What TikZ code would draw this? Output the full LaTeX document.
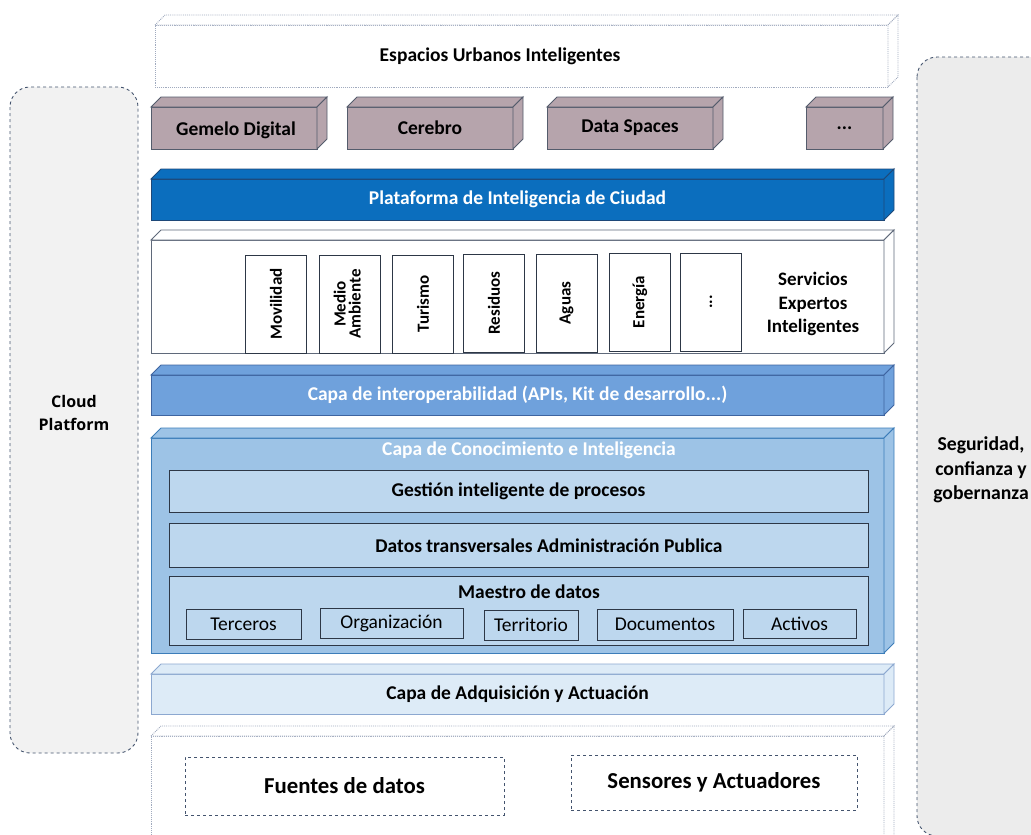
\documentclass[tikz,border=0pt]{standalone}
\usepackage{fontspec}
\setmainfont{Carlito}
\newfontfamily\cloudfont{Open Sans}

\definecolor{mauve}{RGB}{182,164,172}
\definecolor{mauveline}{RGB}{84,92,108}
\definecolor{cityblue}{RGB}{11,110,190}
\definecolor{citybluel}{RGB}{30,72,120}
\definecolor{interop}{RGB}{111,161,220}
\definecolor{interopl}{RGB}{62,100,160}
\definecolor{knowl}{RGB}{157,195,230}
\definecolor{knowll}{RGB}{60,125,185}
\definecolor{innerfill}{RGB}{189,215,238}
\definecolor{innerline}{RGB}{45,55,70}
\definecolor{acq}{RGB}{221,235,247}
\definecolor{acql}{RGB}{140,168,208}
\definecolor{dotline}{RGB}{160,170,190}
\definecolor{panelline}{RGB}{68,84,110}
\definecolor{servline}{RGB}{95,105,122}

\tikzset{
  x=1pt, y=-1pt,
  bigfont/.style={font=\bfseries\fontsize{19.5}{23}\selectfont},
  txt/.style={bigfont, align=center, inner sep=0, outer sep=0},
  slab/.style={draw, line width=0.9pt, inner sep=0, outer sep=0, bigfont, align=center},
  purplebox/.style={slab, fill=mauve, draw=mauveline},
  platbox/.style={slab, fill=cityblue, draw=citybluel, text=white},
  interbox/.style={slab, fill=interop, draw=interopl, text=white},
  knowbox/.style={slab, fill=knowl, draw=knowll},
  acqbox/.style={slab, fill=acq, draw=acql},
  servbox/.style={slab, fill=white, draw=servline},
  dotbox/.style={draw=dotline, densely dotted, line width=0.9pt, fill=white, inner sep=0, outer sep=0},
  innerbox/.style={draw=innerline, fill=innerfill, line width=0.8pt, inner sep=0, outer sep=0, bigfont},
  itembox/.style={draw=innerline, fill=innerfill, line width=0.8pt, inner sep=0, outer sep=0,
    font=\fontsize{19.5}{23}\selectfont},
  colbox/.style={draw=innerline, fill=white, line width=0.8pt, inner sep=0, outer sep=0,
    minimum width=61pt, minimum height=98pt, font=\bfseries\fontsize{17}{18}\selectfont, align=center},
  srcbox/.style={draw=panelline, dashed, line width=0.9pt, inner sep=0, outer sep=0,
    font=\bfseries\fontsize{22.8}{26}\selectfont},
  sidepanel/.style={draw=panelline, dashed, line width=0.9pt, rounded corners=20pt},
  cloudtxt/.style={font=\cloudfont\bfseries\fontsize{16}{23}\selectfont, align=center, inner sep=0, outer sep=0},
}

% top and right faces of a block drawn behind its front face
\newcommand\blockdepth[3][10]{%
  \filldraw[#3] (#2.north west) -- ++(#1,-#1) -- ([shift={(#1,-#1)}]#2.north east)
    -- (#2.north east) -- cycle;
  \filldraw[#3] (#2.north east) -- ([shift={(#1,-#1)}]#2.north east)
    -- ([shift={(#1,-#1)}]#2.south east) -- (#2.south east) -- cycle;}

\begin{document}
\begin{tikzpicture}
\useasboundingbox (0,0) rectangle (1031,835);
\begin{scope}
\clip (0,0) rectangle (1031,835);

% side panels
\filldraw[sidepanel, fill={rgb,255:red,242;green,242;blue,242}] (10,87) rectangle (138,753);
\node[cloudtxt] (cloud) at (74,413) {Cloud\\Platform};
\filldraw[sidepanel, fill={rgb,255:red,236;green,236;blue,236}] (917,57) rectangle (1060,836);
\node[txt, font=\bfseries\fontsize{19.7}{24.5}\selectfont] (segur) at (981,470) {Seguridad,\\confianza y\\gobernanza};

% smart urban spaces
\node[dotbox, minimum width=733pt, minimum height=62pt] (esp) at (521.5,56) {};
\blockdepth{esp}{dotbox}
\node[txt] (esptxt) at (500,56) {Espacios Urbanos Inteligentes};

% applications
\node[purplebox, minimum width=166pt, minimum height=42pt] (gemelo) at (234,128) {};
\blockdepth{gemelo}{purplebox}
\node[txt] (gemelotxt) at (236,130) {Gemelo Digital};
\node[purplebox, minimum width=166pt, minimum height=42pt] (cerebro) at (430,128) {Cerebro};
\blockdepth{cerebro}{purplebox}
\node[purplebox, minimum width=166pt, minimum height=42pt] (dspaces) at (630,128) {Data Spaces};
\blockdepth{dspaces}{purplebox}
\node[purplebox, minimum width=77pt, minimum height=42pt] (appmore) at (844.5,128) {...};
\blockdepth{appmore}{purplebox}

% city intelligence platform
\node[platbox, minimum width=733pt, minimum height=41pt] (plat) at (517.5,199.5) {Plataforma de Inteligencia de Ciudad};
\blockdepth{plat}{platbox}

% expert services
\node[servbox, minimum width=733pt, minimum height=113pt] (serv) at (517.5,296.5) {};
\blockdepth{serv}{servbox}
\node[colbox] (c1) at (276,304) {\rotatebox{90}{Movilidad}};
\node[colbox] (c2) at (349.5,304) {\rotatebox{90}{\begin{tabular}{@{}c@{}}Medio\\[-3pt]Ambiente\end{tabular}}};
\node[colbox] (c3) at (423,304) {\rotatebox{90}{Turismo}};
\node[colbox] (c4) at (494,303) {\rotatebox{90}{Residuos}};
\node[colbox] (c5) at (566.5,303) {\rotatebox{90}{Aguas}};
\node[colbox] (c6) at (640,302) {\rotatebox{90}{Energía}};
\node[colbox] (c7) at (711,302) {\rotatebox{90}{...}};
\node[txt, font=\bfseries\fontsize{19}{23.5}\selectfont] (servtxt) at (813,304) {Servicios\\Expertos\\Inteligentes};

% interoperability layer
\node[interbox, minimum width=733pt, minimum height=40pt] (inter) at (517.5,395) {Capa de interoperabilidad (APIs, Kit de desarrollo...)};
\blockdepth{inter}{interbox}

% knowledge and intelligence layer
\node[knowbox, minimum width=733pt, minimum height=215pt] (know) at (517.5,545.5) {};
\blockdepth{know}{knowbox}
\node[txt, text=white] (knowtxt) at (529,450) {Capa de Conocimiento e Inteligencia};
\node[innerbox, minimum width=699pt, minimum height=42pt] (gest) at (518.5,491) {Gestión inteligente de procesos};
\node[innerbox, minimum width=699pt, minimum height=44pt] (datos) at (518.5,545) {};
\node[txt] (datostxt) at (549,546) {Datos transversales Administración Publica};
\node[innerbox, minimum width=699pt, minimum height=69pt] (maestro) at (518.5,610.5) {};
\node[txt] (maestrotxt) at (529,592) {Maestro de datos};
\node[itembox, minimum width=115pt, minimum height=30pt] (terc) at (243.5,624) {Terceros};
\node[itembox, minimum width=143pt, minimum height=30pt] (org) at (391.5,623) {Organización};
\node[itembox, minimum width=94pt, minimum height=30pt] (terr) at (531,625) {Territorio};
\node[itembox, minimum width=136pt, minimum height=31pt] (docs) at (665,624.5) {Documentos};
\node[itembox, minimum width=113pt, minimum height=29pt] (act) at (799.5,623.5) {Activos};

% acquisition and actuation layer
\node[acqbox, minimum width=733pt, minimum height=40pt] (acqn) at (517.5,694) {Capa de Adquisición y Actuación};
\blockdepth{acqn}{acqbox}

% field level
\node[dotbox, minimum width=733pt, minimum height=110pt] (field) at (517.5,791) {};
\blockdepth{field}{dotbox}
\node[srcbox, minimum width=319pt, minimum height=58pt] (fuentes) at (344.5,786) {Fuentes de datos};
\node[srcbox, minimum width=286pt, minimum height=55pt] (sens) at (714,782.5) {Sensores y Actuadores};
\end{scope}
\end{tikzpicture}
\end{document}
